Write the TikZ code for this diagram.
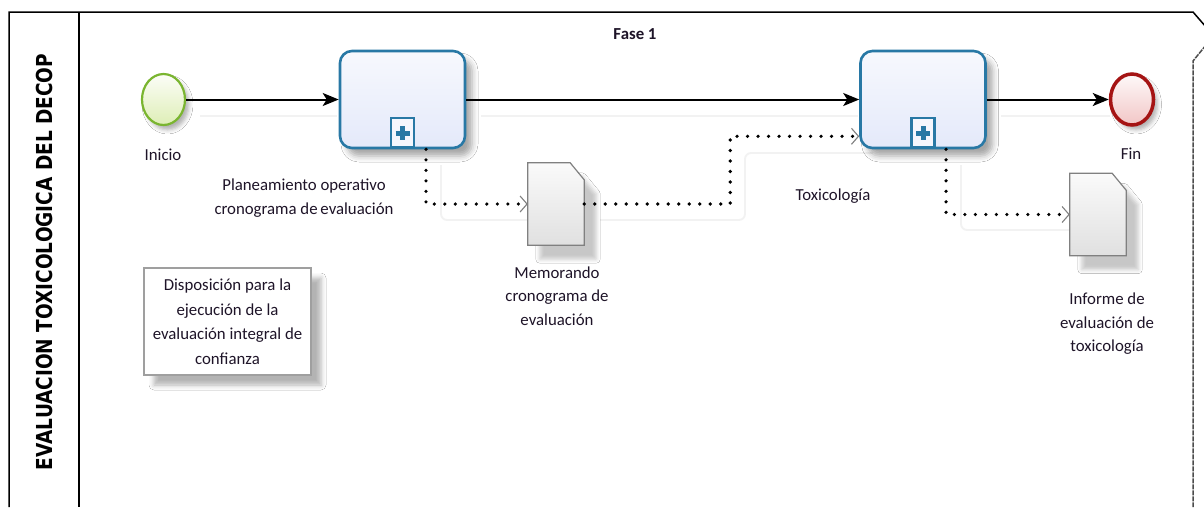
\documentclass[tikz,border=0pt]{standalone}
\usepackage{fontspec}
\setmainfont{Carlito}
\newfontfamily\lanefont{DejaVu Sans}
\usetikzlibrary{arrows.meta,shadows.blur,shapes.geometric,calc}

\definecolor{taskblue}{RGB}{40,120,165}
\definecolor{taskfill}{RGB}{228,233,250}
\definecolor{startgreen}{RGB}{122,181,48}
\definecolor{startfill}{RGB}{222,238,182}
\definecolor{endred}{RGB}{165,20,20}
\definecolor{endfill}{RGB}{242,198,198}
\definecolor{docline}{RGB}{128,128,128}
\definecolor{tracegray}{RGB}{242,242,242}
\definecolor{inktext}{RGB}{30,20,40}

\tikzset{
  txt/.style={font=\fontsize{16.8}{23.5}\selectfont, text=inktext, align=center, inner sep=0pt},
  poolline/.style={line width=1.5pt, black},
  startev/.style={ellipse, draw=startgreen, line width=2.2pt, top color=white!90!startfill,
    bottom color=startfill, minimum width=43pt, minimum height=51pt, inner sep=0pt,
    blur shadow={shadow xshift=4pt, shadow yshift=-5pt, shadow blur radius=4pt, shadow opacity=30}},
  endev/.style={ellipse, draw=endred, line width=3.5pt, top color=white!90!endfill,
    bottom color=endfill, minimum width=43pt, minimum height=51pt, inner sep=0pt,
    blur shadow={shadow xshift=4pt, shadow yshift=-5pt, shadow blur radius=4pt, shadow opacity=30}},
  subproc/.style={rectangle, rounded corners=12pt, draw=taskblue, line width=2.6pt,
    top color=white!70!taskfill, bottom color=taskfill, minimum width=125pt, minimum height=97pt,
    blur shadow={shadow xshift=7pt, shadow yshift=-8pt, shadow blur radius=6pt, shadow opacity=35}},
  plusbox/.style={rectangle, draw=taskblue, line width=2.2pt, fill=white!60!taskfill,
    minimum width=23pt, minimum height=29pt, inner sep=0pt},
  docframe/.style={rectangle, minimum width=56pt, minimum height=82pt, inner sep=0pt},
  docbody/.style={draw=docline, line width=1.2pt, top color=white!98!black, bottom color=white!88!black,
    blur shadow={shadow xshift=12pt, shadow yshift=-14pt, shadow blur radius=4pt, shadow opacity=22}},
  seqflow/.style={line width=2pt, black, -{Stealth[length=16pt, width=13pt, inset=4pt]}},
  dataflow/.style={line width=3.6pt, black, dash pattern=on 0pt off 10.5pt, line cap=round,
    -{Straight Barb[length=7pt, width=16pt, line width=1.1pt, color=docline]}},
  trace/.style={line width=1.8pt, tracegray, rounded corners=6pt},
  annot/.style={rectangle, draw=gray!75, line width=1.2pt, fill=white, minimum width=167pt,
    minimum height=107pt, inner sep=0pt,
    blur shadow={shadow xshift=10pt, shadow yshift=-10pt, shadow blur radius=5pt, shadow opacity=30}}
}

\begin{document}
\begin{tikzpicture}[x=1pt, y=-1pt]
  \clip (0,0) rectangle (1204,507);
  \fill[white] (0,0) rectangle (1204,507);

  % pool and lane header
  \draw[poolline] (9,507) -- (9,12) -- (1193,12) -- (1206,27);
  \draw[poolline] (79,12) -- (79,507);
  \draw[line width=1.5pt, black!70, dash pattern=on 5pt off 1pt] (1206,45) -- (1193,61) -- (1193,507);
  \node[rotate=90, inner sep=0pt] (lane) at (44,262)
    {\scalebox{0.84}[1]{\lanefont\bfseries\fontsize{22}{22}\selectfont EVALUACION TOXICOLOGICA DEL DECOP}};
  \node[txt, font=\fontsize{16.8}{20}\selectfont\bfseries] (phase) at (635,34) {Fase 1};

  % faint traces under the connectors
  \draw[trace] (200,116) -- (337,116);
  \draw[trace] (481,116) -- (858,116);
  \draw[trace] (1001,116) -- (1110,116);
  \draw[trace] (441,165) |- (540,220);
  \draw[trace] (600,220) -| (745,153) -- (873,153);
  \draw[trace] (961,165) |- (1085,230);

  % events and sub-processes
  \node[startev] (start) at (163.5,99.5) {};
  \node[subproc] (plan) at (402.5,99.5) {};
  \node[subproc] (toxi) at (923,99.5) {};
  \node[endev] (finish) at (1132,99.5) {};

  \foreach \t in {plan,toxi}{
    \node[plusbox, anchor=south] (\t-mark) at ($(\t.south)+(0,-1.3)$) {};
    \draw[taskblue, line width=5pt] ($(\t-mark.center)+(-7,1)$) -- ($(\t-mark.center)+(7,1)$)
      ($(\t-mark.center)+(0,-6)$) -- ($(\t-mark.center)+(0,8)$);
  }

  % data objects
  \node[docframe] (memo) at (556,204) {};
  \node[docframe] (report) at (1098,214.5) {};
  \foreach \d in {memo,report}{
    \path[docbody] (\d.north west) -- ($(\d.north east)+(-14,0)$) -- ($(\d.north east)+(0,17)$)
      -- (\d.south east) -- (\d.south west) -- cycle;
  }

  % sequence flows
  \draw[seqflow] (start) -- (plan);
  \draw[seqflow] (plan) -- (toxi);
  \draw[seqflow] (toxi) -- (finish);

  % data associations
  \draw[dataflow] ($(plan.south)+(23.5,0)$) |- (memo.west);
  \draw[dataflow] (memo.east) -- ++(146,0) |- ($(toxi.south west)+(0,-13)$);
  \draw[dataflow] ($(toxi.south)+(23,0)$) |- (report.west);

  % labels
  \node[txt] (startlbl) at (163,155) {Inicio};
  \node[txt] (endlbl) at (1131,154) {Fin};
  \node[txt] (planlbl) at (304,198) {Planeamiento operativo\\cronograma de\,evaluación};
  \node[txt] (toxilbl) at (833,196) {Toxicología};
  \node[txt] (memolbl) at (557,296) {Memorando\\cronograma de\\evaluación};
  \node[txt] (reportlbl) at (1107,324) {Informe de\\evaluación de\\toxicología};

  % annotation box
  \node[annot] (note) at (227.5,321.5) {};
  \node[txt, font=\fontsize{16.8}{24.5}\selectfont] (notetext) at (note.center)
    {Disposición para la\\ejecución de la\\evaluación integral de\\confianza};
\end{tikzpicture}
\end{document}
